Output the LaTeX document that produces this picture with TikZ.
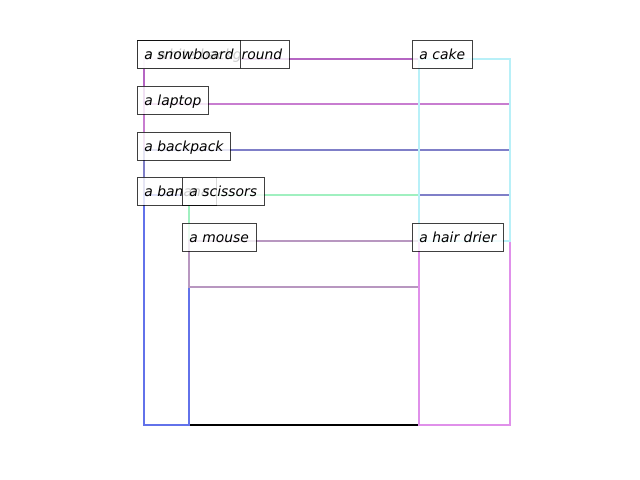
\documentclass[tikz,border=0pt]{standalone}
\usepackage{fontspec}
\setmainfont{DejaVu Sans}
\definecolor{cbg}{HTML}{000000}
\definecolor{csnow}{HTML}{B565C3}
\definecolor{claptop}{HTML}{C87DD0}
\definecolor{cback}{HTML}{7F7FC8}
\definecolor{cbanana}{HTML}{6272EA}
\definecolor{cscis}{HTML}{A0F0C0}
\definecolor{cmouse}{HTML}{B897C0}
\definecolor{ccake}{HTML}{B8F0F8}
\definecolor{chair}{HTML}{E090EA}
\tikzset{
  boxline/.style={line width=1.7pt, line join=miter},
  lbl/.style={anchor=west, fill=white, fill opacity=0.8, text opacity=1,
    draw=black, draw opacity=0.75, line width=0.7pt, inner xsep=5.04pt, inner ysep=0pt,
    minimum height=20.16pt, text height=8.8pt, text depth=1.4pt,
    font=\itshape\fontsize{10pt}{12pt}\selectfont}
}
\begin{document}
\begin{tikzpicture}[x=0.72pt, y=-0.72pt]
\useasboundingbox (0,0) rectangle (640,480);
% boxes
\draw[boxline, cbg] (144,59) rectangle (510,425);
\draw[boxline, csnow] (144,59) rectangle (419,104);
\draw[boxline, claptop] (144,104) rectangle (510,150);
\draw[boxline, cback] (144,150) rectangle (510,195);
\draw[boxline, cbanana] (144,195) rectangle (189,425);
\draw[boxline, cscis] (189,195) rectangle (419,241);
\draw[boxline, cmouse] (189,241) rectangle (419,287);
\draw[boxline, chair] (419,241) rectangle (510,425);
\draw[boxline, ccake] (419,59) rectangle (510,241);
% labels
\node[lbl] (lbg) at (137,54.5) {a white background};
\node[lbl] (lsnow) at (137,54.5) {a snowboard};
\node[lbl] (llaptop) at (137,100) {a laptop};
\node[lbl] (lback) at (137,146) {a backpack};
\node[lbl] (lbanana) at (137,191) {a banana};
\node[lbl] (lscis) at (182,191) {a scissors};
\node[lbl] (lmouse) at (182,237) {a mouse};
\node[lbl] (lcake) at (412,54.5) {a cake};
\node[lbl] (lhair) at (412,237) {a hair drier};
\end{tikzpicture}
\end{document}
